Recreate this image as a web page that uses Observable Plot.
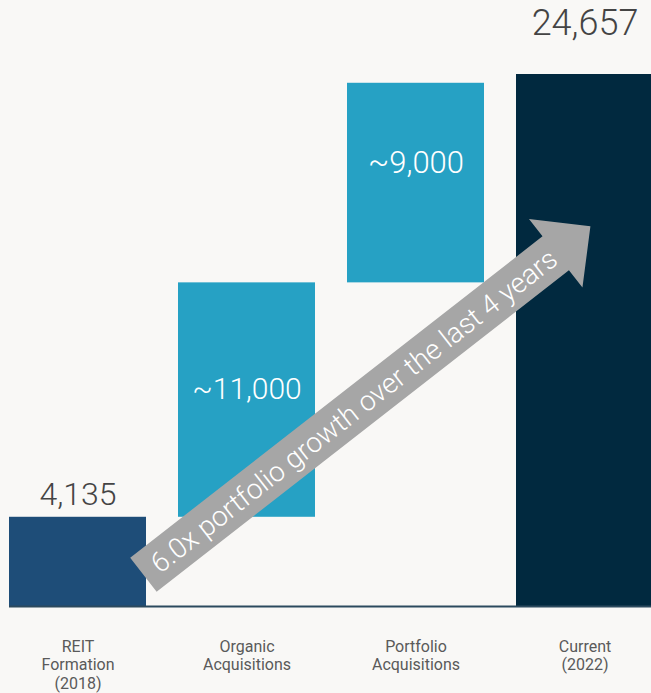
<!DOCTYPE html>
<html>
<head>
<meta charset="utf-8">
<script src="https://cdn.jsdelivr.net/npm/d3@7"></script>
<script src="https://cdn.jsdelivr.net/npm/@observablehq/plot@0.6"></script>
<style>
  html, body { margin: 0; padding: 0; background: #f9f8f6; overflow: hidden; }
  #chart svg { display: block; overflow: hidden; }
</style>
</head>
<body>
<div id="chart"></div>
<script>
// ---- data ----
const categories = ["REIT\nFormation\n(2018)", "Organic\nAcquisitions", "Portfolio\nAcquisitions", "Current\n(2022)"];
const barStart = [0, 4135, 15000, 0];
const barEnd = [4135, 15000, 24250, 24657];
const valueLabels = ["4,135", "~11,000", "~9,000", "24,657"];
const barColors = ["#1e4d78", "#26a1c4", "#26a1c4", "#01293f"];
const arrowText = "6.0x portfolio growth over the last 4 years";
// arrow ends: fractional category index, value
const arrowFrom = {pos: 0.39, value: 1450};
const arrowTo = {pos: 3.035, value: 17600};

const rows = categories.map((c, i) => ({
  cat: c, y1: barStart[i], y2: barEnd[i], label: valueLabels[i],
  color: barColors[i], mid: (barStart[i] + barEnd[i]) / 2
}));

const font = "Roboto, 'Open Sans', sans-serif";

const chart = Plot.plot({
  width: 651,
  height: 693,
  marginTop: 74,
  marginBottom: 87,
  marginLeft: 9,
  marginRight: 0,
  style: {background: "#f9f8f6", fontFamily: font},
  x: {domain: categories, range: [9, 653], paddingInner: 32 / 169, paddingOuter: 0, axis: null},
  y: {domain: [0, 24657], axis: null},
  marks: [
    Plot.barY(rows, {x: "cat", y1: "y1", y2: "y2", fill: "color"}),
    Plot.ruleY([0], {stroke: "#2c4a5e", strokeWidth: 2}),
    Plot.text([rows[1]], {
      x: "cat", y: "mid", text: "label", fill: "white", fontSize: 30, fontWeight: 300, dy: -11
    }),
    Plot.text([rows[2]], {
      x: "cat", y: "mid", text: "label", fill: "white", fontSize: 31, fontWeight: 300, dy: -20
    }),
    Plot.text([rows[0]], {
      x: "cat", y: "y2", text: "label", fill: "#444", fontSize: 32, fontWeight: 300,
      lineAnchor: "bottom", dy: -12
    }),
    Plot.text([rows[3]], {
      x: "cat", y: "y2", text: "label", fill: "#444", fontSize: 36, fontWeight: 300,
      lineAnchor: "bottom", dy: -40
    }),
    Plot.text(rows, {
      x: "cat", y: () => 0, text: "cat", fill: "#5a5a5a", fontSize: 16,
      lineAnchor: "top", lineHeight: 1.16, dy: 32
    })
  ]
});
document.getElementById("chart").appendChild(chart);

// ---- arrow annotation, positioned through the chart's scales ----
const xs = chart.scale("x"), ys = chart.scale("y");
const c0 = xs.apply(categories[0]) + xs.bandwidth / 2;
const px = p => c0 + p * xs.step;
const S = [px(arrowFrom.pos), ys.apply(arrowFrom.value)];
const T = [px(arrowTo.pos), ys.apply(arrowTo.value)];
const dx = T[0] - S[0], dy = T[1] - S[1];
const len = Math.hypot(dx, dy);
const u = [dx / len, dy / len];
const n = [-u[1], u[0]];
const headLen = 44, hw = 21.5, hh = 43.5;
const B = [T[0] - u[0] * headLen, T[1] - u[1] * headLen];
const pt = (P, k) => [P[0] + n[0] * k, P[1] + n[1] * k];
const poly = [pt(S, hw), pt(B, hw), pt(B, hh), T, pt(B, -hh), pt(B, -hw), pt(S, -hw)];
const svg = d3.select(chart);
const g = svg.append("g");
g.append("polygon").attr("points", poly.map(p => p.join(",")).join(" ")).attr("fill", "#a6a6a6");
const shaftLen = len - headLen;
const C = [S[0] + u[0] * shaftLen * 0.51, S[1] + u[1] * shaftLen * 0.51];
const ang = Math.atan2(dy, dx) * 180 / Math.PI;
g.append("text")
  .attr("transform", `translate(${C[0]},${C[1]}) rotate(${ang})`)
  .attr("text-anchor", "middle")
  .attr("dy", "0.35em")
  .attr("fill", "white")
  .attr("font-family", font)
  .attr("font-weight", 300)
  .attr("font-size", 28)
  .text(arrowText);
</script>
</body>
</html>
